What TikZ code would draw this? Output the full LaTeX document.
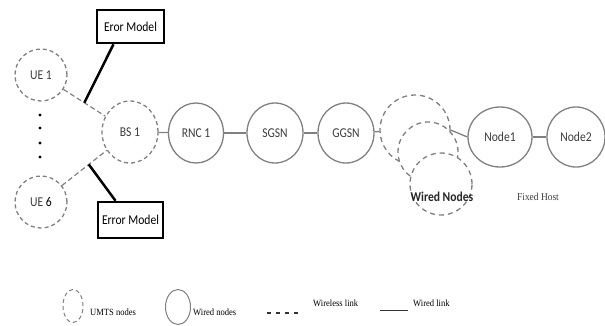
\documentclass[tikz,border=0pt]{standalone}
\usepackage{fontspec}
\setmainfont{Carlito}
\newfontfamily\nodefont[FakeStretch=0.86]{Carlito}
\newfontfamily\hostfont[FakeStretch=0.9]{Liberation Serif}
\usepackage{xcolor}
\usetikzlibrary{shapes.geometric}
\definecolor{linegray}{RGB}{128,128,128}
\definecolor{textgray}{RGB}{60,60,60}
\tikzset{
umts/.style={
  ellipse,draw=linegray,dashed,dash pattern=on 4pt off 3pt,line width=1.3pt,
  minimum width=52pt,minimum height=52pt,inner sep=0pt,
  text=textgray,font=\nodefont\fontsize{13.5}{15}\selectfont
},
wired/.style={
  ellipse,draw=linegray,line width=1.3pt,
  minimum width=56pt,minimum height=60pt,inner sep=0pt,
  text=textgray,font=\nodefont\fontsize{13.5}{15}\selectfont
},
cloud/.style={
  circle,draw=linegray,fill=white,dashed,dash pattern=on 5pt off 4pt,line width=1.3pt,
  inner sep=0pt
},
errbox/.style={
  rectangle,draw=black,line width=2.5pt,inner sep=0pt,
  font=\nodefont\fontsize{13.5}{15}\selectfont
},
wirelink/.style={linegray,line width=1.3pt},
wlesslink/.style={linegray,line width=1.2pt,dash pattern=on 5pt off 3pt},
errlink/.style={black,line width=2.5pt},
legendtext/.style={font=\hostfont\fontsize{9.5}{11}\selectfont,anchor=west,inner sep=0pt}
}

\begin{document}
\begin{tikzpicture}[x=1pt,y=-1pt]
\useasboundingbox (0,0) rectangle (605,325);
% the radio side
\node[umts] (ue1) at (41,75) {UE 1};
\node[umts] (ue6) at (41,202) {UE \textcolor{black}{6}};
\foreach \y in {115,128,143,157}
  \fill (40,\y) circle (1.7pt);
\node[umts,minimum width=56pt,minimum height=62pt] (bs1) at (130,132) {BS 1};
\node[errbox,minimum width=67pt,minimum height=33pt] (em1) at (130.5,26.5) {Eror Model};
\node[errbox,minimum width=65pt,minimum height=36pt] (em2) at (130.5,220) {Error Model};
% the core network
\node[wired,minimum width=55pt] (rnc1) at (196,133) {RNC 1};
\node[wired] (sgsn) at (275,133) {SGSN};
\node[wired] (ggsn) at (346,133) {GGSN};
% the wired nodes
\node[cloud,minimum size=70pt] (wa) at (415,130) {};
\node[cloud,minimum size=60pt] (wb) at (428,152) {};
\node[cloud,minimum size=62pt] (wc) at (441,184) {};
\node[font=\nodefont\bfseries\fontsize{13.5}{15}\selectfont,text=black!85] (wlabel) at (442,197) {Wired Nodes};
% the fixed host
\node[wired,minimum width=64pt] (node1) at (500,137) {Node1};
\node[wired,minimum width=58pt] (node2) at (576,137) {Node2};
\node[font=\hostfont\fontsize{10.5}{12}\selectfont,text=textgray] (fhost) at (538,197) {Fixed Host};
% the links
\draw[wlesslink] (ue1) -- coordinate[pos=0.5] (m1) (bs1);
\draw[wlesslink] (ue6) -- coordinate[pos=0.6] (m2) (bs1);
\draw[errlink] (m1) -- ([xshift=-17pt]em1.south);
\draw[errlink] (m2) -- ([xshift=-15pt]em2.north);
\draw[wirelink] (bs1) -- (rnc1);
\draw[wirelink] (rnc1) -- (sgsn);
\draw[wirelink] (sgsn) -- (ggsn);
\draw[wirelink] (ggsn) -- (wa);
\draw[wirelink] (wa.east) -- (node1.west);
\draw[wirelink] (node1) -- (node2);
% the legend
\node[umts,minimum width=20pt,minimum height=33pt,line width=1pt] (lumts) at (73,306) {};
\node[legendtext] (tumts) at (90,312) {UMTS nodes};
\node[wired,minimum width=25pt,minimum height=35pt,line width=1pt] (lwired) at (178,307) {};
\node[legendtext] (twired) at (193,312) {Wired nodes};
\coordinate (ls1) at (267,313);
\coordinate (ls2) at (302,313);
\draw[black!80,line width=1.2pt,dash pattern=on 4pt off 5pt] (ls1) -- (ls2);
\node[legendtext] (twless) at (313,303) {Wireless link};
\coordinate (lw1) at (380,310);
\coordinate (lw2) at (408,310);
\draw[black!80,line width=1pt] (lw1) -- (lw2);
\node[legendtext] (twlink) at (413,303) {Wired link};
\end{tikzpicture}
\end{document}
